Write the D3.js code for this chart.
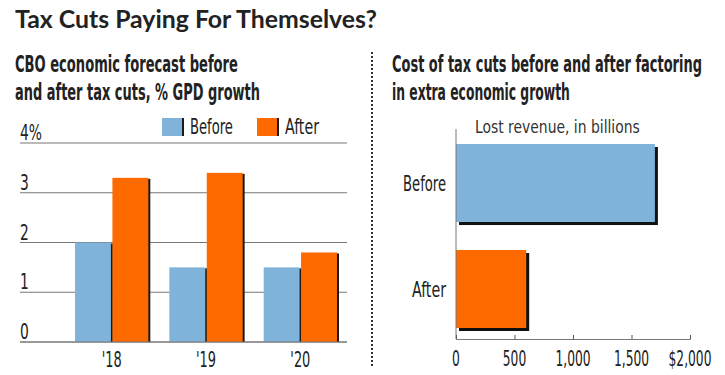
<html><head>
<title>Tax Cuts Paying For Themselves?</title>
<style>
body { margin: 0; background: #fff; }
svg text { fill: #222; font-family: "DejaVu Sans Condensed", "DejaVu Sans", sans-serif; }
</style>
<script src="https://cdnjs.cloudflare.com/ajax/libs/d3/7.8.5/d3.min.js"></script>
</head>
<body>
<svg id="chart" width="725" height="375"></svg>
<script>
// data
const years = ["'18", "'19", "'20"];
const seriesNames = ["Before", "After"];
const growthBefore = [2.0, 1.5, 1.5];
const growthAfter = [3.3, 3.4, 1.8];
const growthTicks = [0, 1, 2, 3, 4];
const costLabels = ["Before", "After"];
const costValues = [1700, 600];
const costTicks = [0, 500, 1000, 1500, 2000];

const colors = { Before: "#80b3d9", After: "#ff6a00" };
const svg = d3.select("#chart");

// tall narrow type: draw, measure, squeeze horizontally
function condText(parent, x, y, str, o) {
  const t = parent.append("text")
    .attr("text-anchor", o.anchor || "start")
    .style("font-size", (o.size || 21) + "px")
    .style("font-weight", o.weight || 400)
    .text(str);
  if (o.fill) t.style("fill", o.fill);
  const sx = o.width ? o.width / t.node().getComputedTextLength() : (o.sx || 0.62);
  t.attr("transform", `translate(${x},${y}) scale(${sx},1)`);
  return t;
}

// headline
svg.append("text")
  .attr("x", 15).attr("y", 28)
  .attr("textLength", 362).attr("lengthAdjust", "spacingAndGlyphs")
  .style("font-family", "Lato, sans-serif")
  .style("font-weight", 700).style("font-size", "25px")
  .text("Tax Cuts Paying For Themselves?");

condText(svg, 15, 72, "CBO economic forecast before", { size: 23, weight: 700, width: 223 });
condText(svg, 15, 100, "and after tax cuts, % GPD growth", { size: 23, weight: 700, width: 245 });
condText(svg, 392, 72, "Cost of tax cuts before and after factoring", { size: 23, weight: 700, width: 310 });
condText(svg, 392, 100, "in extra economic growth", { size: 23, weight: 700, width: 178 });

// dotted divider
svg.append("line")
  .attr("x1", 372).attr("x2", 372).attr("y1", 52).attr("y2", 368)
  .attr("stroke", "#333").attr("stroke-width", 2)
  .attr("stroke-dasharray", "2,2");

// ---- left: grouped bars ----
const y = d3.scaleLinear().domain([0, 4]).range([342, 143]);
const x0 = d3.scaleBand().domain(years).range([64.5, 347.5])
  .paddingInner(0.223).paddingOuter(0.1115);
const x1 = d3.scaleBand().domain(seriesNames).range([0, x0.bandwidth()]).paddingInner(0.04);

const grid = svg.append("g");
growthTicks.forEach(t => {
  grid.append("line")
    .attr("x1", 20).attr("x2", 347)
    .attr("y1", y(t)).attr("y2", y(t))
    .attr("stroke", "#777").attr("stroke-width", 1.2);
  condText(grid, 20, y(t) - 3, t === 4 ? "4%" : String(t), { size: 22, sx: 0.7 });
});

const rows = years.map((yr, i) => ({ year: yr, Before: growthBefore[i], After: growthAfter[i] }));
const groups = svg.append("g").selectAll("g").data(rows).join("g")
  .attr("transform", d => `translate(${x0(d.year)},0)`);
groups.selectAll("rect.shadow")
  .data(d => seriesNames.map(k => ({ key: k, value: d[k] })))
  .join("rect").attr("class", "shadow")
  .attr("x", d => x1(d.key) + 2).attr("y", d => y(d.value) + 1)
  .attr("width", x1.bandwidth()).attr("height", d => y(0) - y(d.value) - 1)
  .attr("fill", "#1a1a1a");
groups.selectAll("rect.bar")
  .data(d => seriesNames.map(k => ({ key: k, value: d[k] })))
  .join("rect").attr("class", "bar")
  .attr("x", d => x1(d.key)).attr("y", d => y(d.value))
  .attr("width", x1.bandwidth()).attr("height", d => y(0) - y(d.value))
  .attr("fill", d => colors[d.key]);

svg.append("line")
  .attr("x1", 20).attr("x2", 347).attr("y1", y(0)).attr("y2", y(0))
  .attr("stroke", "#777").attr("stroke-width", 1.2);

const yearLabels = svg.append("g");
years.forEach(d => condText(yearLabels, x0(d) + x0.bandwidth() / 2, 367, d, { size: 21, width: 20, anchor: "middle" }));

// legend
const legendPos = [{ key: "Before", sx: 162, tx: 190, w: 43 }, { key: "After", sx: 257, tx: 285, w: 34 }];
legendPos.forEach(l => {
  svg.append("rect").attr("x", l.sx + 2).attr("y", 118).attr("width", 20).attr("height", 18).attr("fill", "#1a1a1a");
  svg.append("rect").attr("x", l.sx).attr("y", 118).attr("width", 20).attr("height", 18).attr("fill", colors[l.key]);
  condText(svg, l.tx, 134, l.key, { size: 22, width: l.w });
});

// ---- right: horizontal bars ----
const xc = d3.scaleLinear().domain([0, 2000]).range([456, 690]);
const yc = d3.scaleBand().domain(costLabels).range([131, 343])
  .paddingInner(0.245).paddingOuter(0.1226);

condText(svg, 475, 133, "Lost revenue, in billions", { size: 18, width: 165, fill: "#333" });

svg.append("g").selectAll("rect").data(costValues).join("rect")
  .attr("x", xc(0) + 3).attr("y", (d, i) => yc(costLabels[i]) + 3)
  .attr("width", d => xc(d) - xc(0)).attr("height", yc.bandwidth() - 2)
  .attr("fill", "#111");
svg.append("g").selectAll("rect").data(costValues).join("rect")
  .attr("x", xc(0)).attr("y", (d, i) => yc(costLabels[i]))
  .attr("width", d => xc(d) - xc(0)).attr("height", yc.bandwidth() - 2)
  .attr("fill", (d, i) => colors[costLabels[i]]);

svg.append("line")
  .attr("x1", 456).attr("x2", 456).attr("y1", 129).attr("y2", 339)
  .attr("stroke", "#777").attr("stroke-width", 1);

const xAxis = svg.append("g").attr("transform", "translate(0,339)")
  .call(d3.axisTop(xc).tickValues(costTicks).tickSize(4).tickFormat(""));
xAxis.select(".domain").attr("stroke", "#777");
xAxis.selectAll(".tick line").attr("stroke", "#555");

const costTickLabels = svg.append("g");
costTicks.forEach(d => condText(costTickLabels, xc(d), 366,
  d === 2000 ? "$2,000" : d3.format(",")(d), { size: 22, sx: 0.62, anchor: "middle" }));

const costCats = svg.append("g");
const catW = { Before: 43, After: 34 };
costLabels.forEach(d => condText(costCats, 446, yc(d) + yc.bandwidth() / 2 + 7, d,
  { size: 21, width: catW[d], anchor: "end" }));
</script>
</body>
</html>
